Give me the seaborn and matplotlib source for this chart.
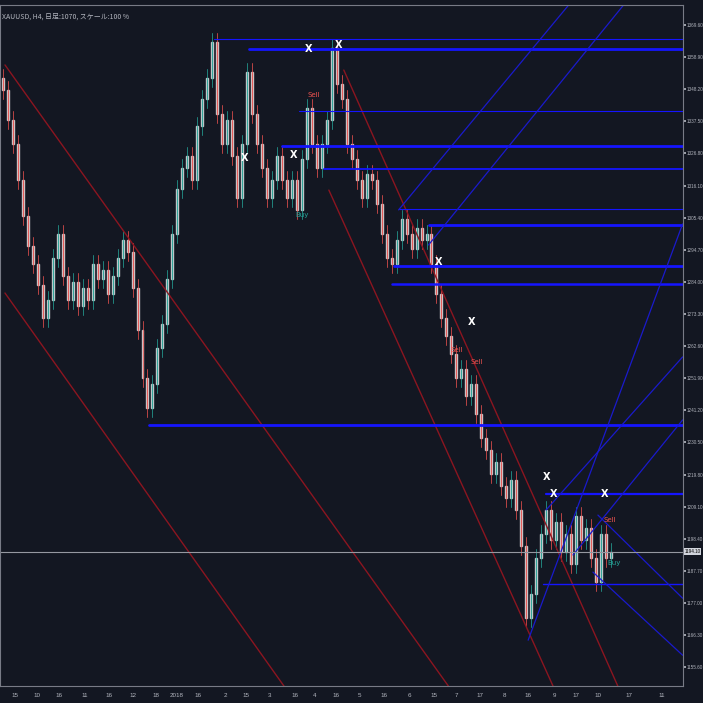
import matplotlib
matplotlib.use("Agg")
import matplotlib.pyplot as plt
import numpy as np
import seaborn as sns

sns.set_theme(style="dark")

# closes per candle (H4 bars, condensed)
closes = [1348, 1338, 1330, 1318, 1306, 1296, 1290, 1283, 1272, 1278,
          1292, 1300, 1286, 1278, 1284, 1276, 1282, 1278, 1290, 1285,
          1288, 1280, 1286, 1292, 1298, 1294, 1282, 1268, 1252, 1242,
          1250, 1262, 1270, 1285, 1300, 1315, 1322, 1326, 1318, 1336,
          1345, 1352, 1364, 1340, 1330, 1338, 1326, 1312, 1330, 1354,
          1340, 1330, 1322, 1312, 1318, 1326, 1318, 1312, 1318, 1308,
          1325, 1342, 1330, 1322, 1330, 1338, 1362, 1350, 1345, 1330,
          1325, 1318, 1312, 1320, 1318, 1310, 1300, 1292, 1290, 1298,
          1305, 1300, 1295, 1302, 1298, 1300, 1290, 1280, 1272, 1266,
          1260, 1252, 1255, 1246, 1250, 1240, 1232, 1228, 1220, 1224,
          1216, 1212, 1218, 1208, 1196, 1172, 1180, 1192, 1200, 1208,
          1198, 1204, 1194, 1200, 1190, 1206, 1198, 1202, 1192, 1184,
          1200, 1192, 1194]
first_open = 1352
last_price = 1194.10

price_ticks = [1369.60, 1358.90, 1348.20, 1337.50, 1326.80, 1316.10, 1305.40,
               1294.70, 1284.00, 1273.30, 1262.60, 1251.90, 1241.20, 1230.50,
               1219.80, 1209.10, 1198.40, 1187.70, 1177.00, 1166.30, 1155.60]
date_pos = [2.4, 6.8, 11.2, 16.4, 21.2, 26, 30.8, 34.8, 39.2, 44.6, 48.8, 53.4,
            58.6, 62.6, 66.8, 71.6, 76.4, 81.6, 86.4, 91, 95.8, 100.6, 105.4,
            110.6, 115, 119.4, 125.6, 132.2]
date_labels = ["15", "10", "16", "11", "16", "12", "18", "2018", "16", "2", "15", "3",
               "16", "4", "16", "5", "16", "6", "15", "7", "17", "8", "16", "9",
               "17", "10", "17", "11"]

# trend lines: (x0, p0, x1, p1)
red_lines = [(0.4, 1356.3, 89.4, 1149.3), (0.4, 1280.3, 56.4, 1149.3),
             (65.4, 1314.6, 110.4, 1149.3), (68.4, 1354.6, 123.4, 1149.3)]
blue_levels = [(49.4, 1361.6, 2.0), (42.4, 1365.0, 0.8), (56.0, 1329.3, 2.0),
               (59.4, 1341.0, 0.8), (64.4, 1321.6, 1.3), (79.4, 1308.3, 0.8),
               (85.4, 1303.0, 2.0), (78.4, 1289.3, 2.0), (78.0, 1283.3, 1.8),
               (29.4, 1236.3, 2.0), (109.0, 1213.3, 1.6), (108.4, 1183.3, 1.0)]
blue_diag = [(79.4, 1308.0, 114.4, 1378.0), (85.4, 1296.3, 125.4, 1378.0),
             (105.4, 1164.6, 136.4, 1303.3), (109.0, 1208.0, 136.4, 1259.0),
             (114.4, 1193.0, 136.4, 1238.0), (119.4, 1206.3, 136.4, 1178.6),
             (118.4, 1187.3, 136.4, 1159.6)]
x_marks = [(61.4, 1361.6), (67.4, 1363.0), (48.4, 1325.3), (58.4, 1326.3),
           (87.4, 1290.6), (94.0, 1270.6), (109.0, 1219.0), (110.4, 1213.3),
           (120.8, 1213.3)]
sell_marks = [(62.4, 1346.3), (91.0, 1261.3), (95.0, 1257.3), (121.8, 1204.6)]
buy_marks = [(60.0, 1306.3), (122.6, 1190.3)]

bg = "#131722"
up_col, dn_col = "#26a69a", "#ef5350"
fg = "#b2b5be"
small = ["Liberation Sans", "DejaVu Sans"]

fig = plt.figure(figsize=(7.03, 7.03), dpi=100, facecolor=bg)
ax = fig.add_axes([0.0, 0.024, 0.971, 0.969])
ax.set_facecolor(bg)

opens = [first_open] + closes[:-1]
for i, (o, c) in enumerate(zip(opens, closes)):
    col = up_col if c >= o else dn_col
    hi, lo = max(o, c) + 3, min(o, c) - 3
    ax.plot([i, i], [lo, hi], color=col, lw=0.7, alpha=0.75)
    ax.bar(i, abs(c - o) or 0.5, bottom=min(o, c), width=0.4, color=col, alpha=0.7)

for x0, p0, x1, p1 in red_lines:
    ax.plot([x0, x1], [p0, p1], color="#8b1520", lw=1.0)
for x0, p, w in blue_levels:
    ax.plot([x0, 136.4], [p, p], color="#1515ff", lw=w)
for x0, p0, x1, p1 in blue_diag:
    ax.plot([x0, x1], [p0, p1], color="#1a1acc", lw=0.9)

ax.axhline(last_price, color="#9598a1", lw=0.8)
for x, p in x_marks:
    ax.text(x, p, "X", color="white", fontsize=7, fontweight="bold", ha="center", va="center")
for x, p in sell_marks:
    ax.text(x, p, "Sell", color=dn_col, fontsize=5, ha="center", va="center")
for x, p in buy_marks:
    ax.text(x, p, "Buy", color=up_col, fontsize=5, ha="center", va="center")

ax.set_xlim(-0.6, 136.4)
ax.set_ylim(1149.3, 1376.3)
ax.yaxis.tick_right()
ax.set_yticks(price_ticks)
ax.set_yticklabels([f"{p:.2f}" for p in price_ticks], fontsize=3.3, color=fg, family=small)
ax.set_xticks(date_pos)
ax.set_xticklabels(date_labels, fontsize=4.5, color=fg, family=small)
ax.tick_params(axis="y", length=2, color=fg, pad=1)
ax.tick_params(axis="x", length=2, color=fg, pad=3)
ax.grid(False)
for s in ["top", "right", "bottom", "left"]:
    ax.spines[s].set_color("#787b86")
    ax.spines[s].set_linewidth(0.8)
ax.text(1.003, last_price, f"{last_price:.2f}", transform=ax.get_yaxis_transform(),
        fontsize=3.3, color="black", va="center", ha="left", family=small,
        bbox=dict(boxstyle="square,pad=0.15", fc="#d1d4dc", ec="none"))
ax.text(0.003, 0.988, "XAUUSD, H4, 日足:1070, スケール:100 %", transform=ax.transAxes,
        fontsize=5, color=fg, va="top", family=["Noto Sans CJK JP", "DejaVu Sans"])

fig.savefig("out.png", dpi=100, facecolor=bg)
